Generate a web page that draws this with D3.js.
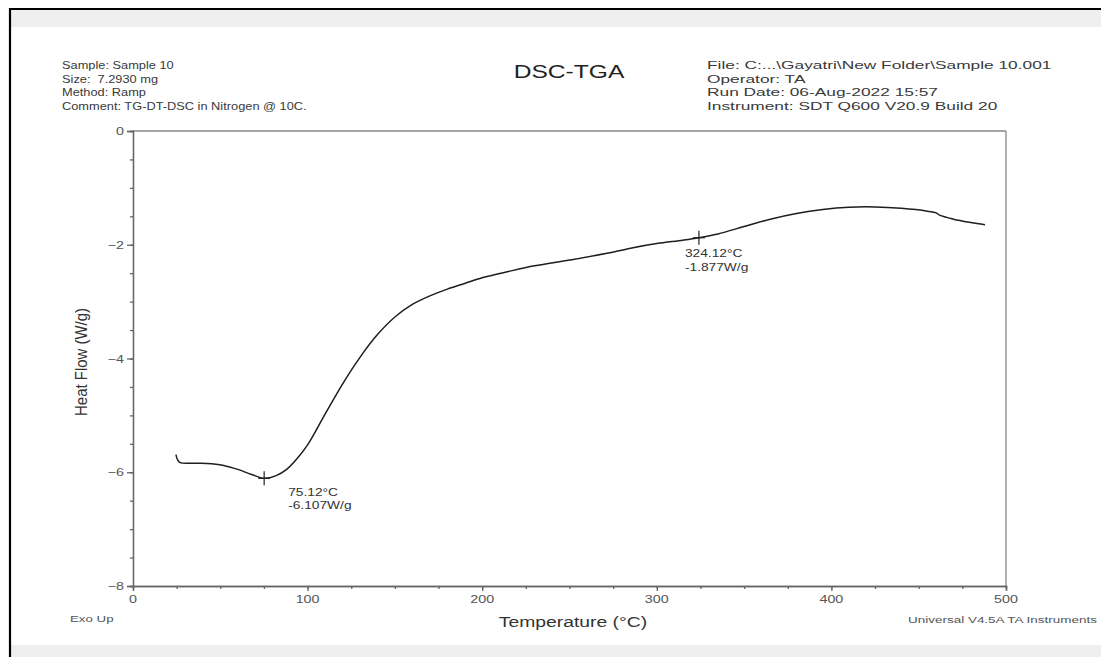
<!DOCTYPE html>
<html><head><meta charset="utf-8">
<script src="https://cdn.jsdelivr.net/npm/d3@7"></script>
<style>body{margin:0;background:#fff;overflow:hidden} text{white-space:pre}</style>
</head><body>
<svg id="c" width="1101" height="657"></svg>
<script>
// ---- data ----
const temperature = [24.6,25.5,27,35,45,52,60,68,75.12,82,88,94,100,110,120,130,140,150,160,170,180,190,200,215,230,250,270,285,300,315,324.12,335,350,365,380,395,410,425,440,455,460,462,470,480,488];
const heatFlow    = [-5.69,-5.78,-5.83,-5.84,-5.85,-5.88,-5.95,-6.04,-6.107,-6.06,-5.95,-5.76,-5.52,-4.98,-4.45,-3.98,-3.58,-3.27,-3.05,-2.9,-2.78,-2.68,-2.58,-2.47,-2.37,-2.27,-2.16,-2.06,-1.98,-1.92,-1.877,-1.81,-1.68,-1.55,-1.45,-1.38,-1.34,-1.335,-1.36,-1.41,-1.44,-1.48,-1.55,-1.61,-1.65];
const xTickValues = [0,100,200,300,400,500];
const yTickValues = [0,-2,-4,-6,-8];
const peakTemps = [75.12, 324.12];
const peakFlows = [-6.107, -1.877];
const peakTempLabels = ["75.12°C", "324.12°C"];
const peakFlowLabels = ["-6.107W/g", "-1.877W/g"];
const headerLeft = ["Sample: Sample 10", "Size:  7.2930 mg", "Method: Ramp", "Comment: TG-DT-DSC in Nitrogen @ 10C."];
const headerRight = ["File: C:...\\Gayatri\\New Folder\\Sample 10.001", "Operator: TA", "Run Date: 06-Aug-2022 15:57", "Instrument: SDT Q600 V20.9 Build 20"];
const titleText = "DSC-TGA";
const xLabel = "Temperature (°C)";
const yLabel = "Heat Flow (W/g)";
const cornerLeft = "Exo Up";
const cornerRight = "Universal V4.5A TA Instruments";

// ---- layout ----
const svg = d3.select("#c");
const FONT = "'Liberation Sans', Arial, sans-serif";
const L = 133, R = 1006, T = 131, B = 586;
const x = d3.scaleLinear().domain([0, 500]).range([L, R]);
const y = d3.scaleLinear().domain([-8, 0]).range([B, T]);

// outer frame
svg.append("rect").attr("x",0).attr("y",0).attr("width",1101).attr("height",657).attr("fill","#fff");
svg.append("rect").attr("x",11).attr("y",10).attr("width",1090).attr("height",17).attr("fill","#efefef");
svg.append("rect").attr("x",11).attr("y",645).attr("width",1090).attr("height",12).attr("fill","#efefef");
svg.append("line").attr("x1",9).attr("x2",1101).attr("y1",9).attr("y2",9).attr("stroke","#000").attr("stroke-width",2.2);
svg.append("line").attr("x1",10).attr("x2",10).attr("y1",8).attr("y2",657).attr("stroke","#000").attr("stroke-width",2.2);

function txt(s, px, py, size, anchor, fill, sx) {
  return svg.append("text")
    .attr("transform", `translate(${px},${py}) scale(${sx},1)`)
    .attr("font-family", FONT).attr("font-size", size)
    .attr("text-anchor", anchor || "start")
    .attr("fill", fill || "#444")
    .text(s);
}

// header
headerLeft.forEach((s,i) => txt(s, 62, 69 + i*13.5, 10.5, "start", "#3a3a3a", 1.22));
headerRight.forEach((s,i) => txt(s, 707, 69 + i*13.5, 10.5, "start", "#3a3a3a", 1.65));
txt(titleText, 569, 78, 18.5, "middle", "#222", 1.33);

// plot frame (top & right)
svg.append("line").attr("x1",L).attr("x2",R).attr("y1",T).attr("y2",T).attr("stroke","#888").attr("stroke-width",1.3);
svg.append("line").attr("x1",R).attr("x2",R).attr("y1",T).attr("y2",B).attr("stroke","#888").attr("stroke-width",1.3);

// axes
const gx = svg.append("g").attr("transform",`translate(0,${B})`);
gx.call(d3.axisBottom(x).tickValues(d3.range(0,501,25)).tickSize(3).tickFormat(""));
gx.call(g => g.append("g").call(d3.axisBottom(x).tickValues(xTickValues).tickSize(5).tickFormat("")));
gx.selectAll("path,line").attr("stroke","#666").attr("stroke-width",1.3);
const gy = svg.append("g").attr("transform",`translate(${L},0)`);
gy.call(d3.axisLeft(y).tickValues(d3.range(-8,0.01,0.5)).tickSize(3).tickFormat(""));
gy.call(g => g.append("g").call(d3.axisLeft(y).tickValues(yTickValues).tickSize(6).tickFormat("")));
gy.selectAll("path,line").attr("stroke","#666").attr("stroke-width",1.3);

xTickValues.forEach(v => txt(d3.format("d")(v), x(v), 603, 11, "middle", "#555", 1.3));
yTickValues.forEach(v => txt(d3.format("d")(v), L - 9, y(v) + 4, 11, "end", "#555", 1.3));

// axis labels
txt(xLabel, 573, 627, 14, "middle", "#333", 1.38);
svg.append("text")
  .attr("transform", `translate(87,362) rotate(-90) scale(1.15,1.3)`)
  .attr("font-family", FONT).attr("font-size", 13).attr("text-anchor","middle").attr("fill","#333")
  .text(yLabel);
txt(cornerLeft, 70, 622, 9.5, "start", "#555", 1.4);
txt(cornerRight, 1097, 623, 9.5, "end", "#555", 1.42);

// curve
const data = temperature.map((t,i) => [t, heatFlow[i]]);
svg.append("path").datum(data)
  .attr("d", d3.line().x(d => x(d[0])).y(d => y(d[1])).curve(d3.curveCatmullRom.alpha(0.5)))
  .attr("fill","none").attr("stroke","#1e1e1e").attr("stroke-width",1.5);

// peak markers
peakTemps.forEach((t,i) => {
  const px = x(t), py = y(peakFlows[i]);
  svg.append("line").attr("x1",px).attr("x2",px).attr("y1",py-7).attr("y2",py+7).attr("stroke","#222").attr("stroke-width",1.2);
  svg.append("line").attr("x1",px-6).attr("x2",px+6).attr("y1",py).attr("y2",py).attr("stroke","#222").attr("stroke-width",1.2);
});
txt(peakTempLabels[0], x(peakTemps[0]) + 24, y(peakFlows[0]) + 18, 11, "start", "#333", 1.25);
txt(peakFlowLabels[0], x(peakTemps[0]) + 24, y(peakFlows[0]) + 31, 11, "start", "#333", 1.25);
txt(peakTempLabels[1], x(peakTemps[1]) - 14, y(peakFlows[1]) + 19, 11, "start", "#333", 1.25);
txt(peakFlowLabels[1], x(peakTemps[1]) - 14, y(peakFlows[1]) + 33, 11, "start", "#333", 1.25);
</script>
</body></html>
